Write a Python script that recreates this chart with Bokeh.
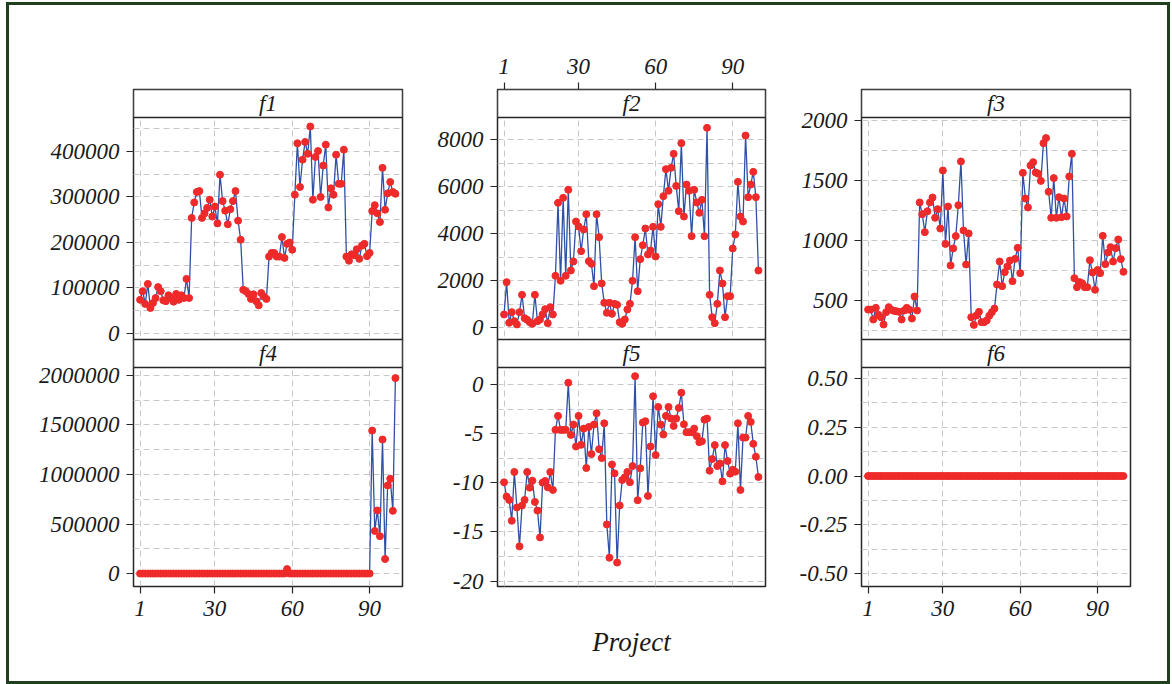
from bokeh.plotting import figure
from bokeh.models import (Range1d, FixedTicker, Grid, LinearAxis, Label,
                          ColumnDataSource, BoxAnnotation, Spacer)
from bokeh.layouts import column, row
from bokeh.embed import file_html
from bokeh.resources import INLINE

# ---------------- data ----------------
projects = list(range(1, 101))

f1 = [74000, 93000, 65000, 109000, 56000, 67000, 78000, 102000, 93000, 73000,
      71000, 84000, 78000, 70000, 87000, 74000, 84000, 78000, 120000, 78000,
      254000, 288000, 311000, 313000, 254000, 264000, 276000, 294000, 257000, 279000,
      242000, 349000, 291000, 270000, 240000, 273000, 291000, 313000, 248000, 206000,
      96000, 93000, 87000, 76000, 86000, 71000, 62000, 89000, 81000, 76000,
      169000, 177000, 177000, 169000, 169000, 212000, 166000, 197000, 200000, 184000,
      305000, 418000, 322000, 382000, 421000, 395000, 455000, 294000, 388000, 401000,
      300000, 369000, 415000, 277000, 319000, 305000, 393000, 329000, 329000, 404000,
      169000, 160000, 174000, 172000, 185000, 164000, 193000, 197000, 170000, 177000,
      269000, 282000, 264000, 245000, 364000, 272000, 308000, 333000, 311000, 307000]

f2 = [566, 1940, 212, 665, 283, 142, 665, 1402, 411, 340,
      241, 170, 1402, 283, 354, 566, 793, 198, 878, 566,
      2209, 5310, 1997, 5522, 2209, 5862, 2435, 2818, 4517, 4305,
      3257, 4177, 4828, 2832, 2718, 1769, 4828, 3851, 1883, 1062,
      637, 1062, 595, 1019, 977, 240, 169, 353, 778, 1019,
      1996, 3851, 1556, 2916, 3511, 4219, 3115, 3284, 4290, 3030,
      5253, 4290, 5593, 6740, 5819, 6797, 7391, 6028, 4955, 7844,
      4728, 6085, 5819, 3893, 5862, 5324, 4885, 5437, 3893, 8496,
      1400, 451, 198, 1019, 2435, 1883, 451, 1343, 1343, 3370,
      3964, 6201, 4728, 4516, 8170, 5550, 6085, 6626, 5550, 2435]

f3 = [422, 422, 339, 436, 378, 358, 297, 400, 442, 420,
      411, 408, 403, 339, 414, 436, 420, 347, 531, 414,
      1316, 1218, 1068, 1243, 1316, 1357, 1188, 1260, 1098, 1583,
      970, 1282, 790, 932, 1035, 1293, 1658, 1082, 798, 1057,
      358, 294, 372, 403, 317, 317, 331, 370, 400, 430,
      631, 823, 617, 734, 781, 831, 659, 845, 937, 726,
      1563, 1349, 1274, 1624, 1652, 1566, 1555, 1496, 1811, 1853,
      1405, 1188, 1519, 1188, 1360, 1193, 1349, 1199, 1533, 1722,
      684, 609, 651, 642, 609, 609, 834, 731, 587, 753,
      726, 1037, 801, 898, 943, 823, 934, 1007, 843, 737]

f4 = [0, 0, 0, 0, 0, 0, 0, 0, 0, 0,
      0, 0, 0, 0, 0, 0, 0, 0, 0, 0,
      0, 0, 0, 0, 0, 0, 0, 0, 0, 0,
      0, 0, 0, 0, 0, 0, 0, 0, 0, 0,
      0, 0, 0, 0, 0, 0, 0, 0, 0, 0,
      0, 0, 0, 0, 0, 0, 0, 45000, 0, 0,
      0, 0, 0, 0, 0, 0, 0, 0, 0, 0,
      0, 0, 0, 0, 0, 0, 0, 0, 0, 0,
      0, 0, 0, 0, 0, 0, 0, 0, 0, 0,
      1443000, 430000, 637000, 377000, 1353000, 147000, 890000, 957000, 633000, 1973000]

f5 = [-9.95, -11.40, -11.74, -13.86, -8.90, -12.51, -16.46, -12.31, -11.74, -8.90,
      -10.49, -9.78, -11.94, -12.82, -15.55, -9.98, -9.81, -10.46, -8.90, -10.73,
      -4.62, -3.20, -4.62, -4.62, -4.62, 0.17, -5.13, -4.08, -6.31, -3.20,
      -6.14, -4.49, -8.50, -4.32, -7.08, -4.08, -2.93, -6.58, -7.49, -3.95,
      -14.23, -17.61, -8.13, -9.04, -18.11, -12.31, -9.71, -9.44, -8.90, -9.95,
      -8.30, 0.84, -11.77, -8.53, -3.88, -3.74, -11.33, -6.31, -1.21, -7.18,
      -2.29, -4.08, -5.09, -3.20, -2.29, -3.47, -4.22, -3.47, -2.39, -0.84,
      -4.05, -4.86, -4.86, -4.86, -4.49, -5.26, -5.87, -5.77, -3.58, -3.47,
      -8.77, -7.59, -6.17, -8.30, -8.03, -9.85, -6.17, -7.79, -9.07, -8.67,
      -8.87, -3.95, -10.73, -5.40, -5.40, -3.20, -3.81, -6.04, -7.35, -9.41]

f6 = [0, 0, 0, 0, 0, 0, 0, 0, 0, 0,
      0, 0, 0, 0, 0, 0, 0, 0, 0, 0,
      0, 0, 0, 0, 0, 0, 0, 0, 0, 0,
      0, 0, 0, 0, 0, 0, 0, 0, 0, 0,
      0, 0, 0, 0, 0, 0, 0, 0, 0, 0,
      0, 0, 0, 0, 0, 0, 0, 0, 0, 0,
      0, 0, 0, 0, 0, 0, 0, 0, 0, 0,
      0, 0, 0, 0, 0, 0, 0, 0, 0, 0,
      0, 0, 0, 0, 0, 0, 0, 0, 0, 0,
      0, 0, 0, 0, 0, 0, 0, 0, 0, 0]

panel_names = ["f1", "f2", "f3", "f4", "f5", "f6"]
x_ticks = [1, 30, 60, 90]
x_tick_labels = ["1", "30", "60", "90"]

f1_ticks = [0, 100000, 200000, 300000, 400000]
f1_labels = ["0", "100000", "200000", "300000", "400000"]
f2_ticks = [0, 2000, 4000, 6000, 8000]
f2_labels = ["0", "2000", "4000", "6000", "8000"]
f3_ticks = [500, 1000, 1500, 2000]
f3_labels = ["500", "1000", "1500", "2000"]
f4_ticks = [0, 500000, 1000000, 1500000, 2000000]
f4_labels = ["0", "500000", "1000000", "1500000", "2000000"]
f5_ticks = [-20, -15, -10, -5, 0]
f5_labels = ["-20", "-15", "-10", "-5", "0"]
f6_ticks = [-0.5, -0.25, 0, 0.25, 0.5]
f6_labels = ["-0.50", "-0.25", "0.00", "0.25", "0.50"]

x_title = "Project"

# ---------------- style ----------------
FONT = "Liberation Serif"
RED = "#EE2A2A"
BLUE = "#2F50A5"
GRIDC = "#C8C8C8"
BORDER = "#262626"
TEXTC = "#1a1a1a"
GREEN = "#1F3F1F"
TICK_FS = "23px"

X_START, X_END = -1.55, 102.75
xr = Range1d(X_START, X_END)

# vertical layout of one column's frame (pixels from the frame bottom)
FRAME_H = 497
ROW2 = (0, 219)
STRIP2 = (219, 247)
ROW1 = (247, 469)
STRIP1 = (469, 497)

FIG_H = 676
MIN_TOP, MIN_BOTTOM = 84, 95


def half_steps(ticks):
    step = (ticks[1] - ticks[0]) / 2.0
    out = []
    v = ticks[0] - step
    while v <= ticks[-1] + 1e-9:
        out.append(v)
        v += step
    return out


def to_px(v, lim, span):
    lo, hi = lim
    p0, p1 = span
    return round(p0 + (v - lo) * (p1 - p0) / (hi - lo), 4)


def style_axis(ax):
    ax.major_label_text_font = FONT
    ax.major_label_text_font_style = "italic"
    ax.major_label_text_font_size = TICK_FS
    ax.major_label_text_color = TEXTC
    ax.major_tick_out = 7
    ax.major_tick_in = 0
    ax.minor_tick_out = 0
    ax.minor_tick_in = 0
    ax.major_tick_line_color = BORDER
    ax.major_tick_line_width = 1.2
    ax.axis_line_color = None


def build_column(w, ml, mr, panels, top_axis=False, bottom_axis=False, xlabel=None):
    p = figure(width=w, height=FIG_H, x_range=xr, y_range=Range1d(0, FRAME_H),
               x_axis_type=None, y_axis_type=None,
               toolbar_location=None, output_backend="svg",
               min_border=0, min_border_left=ml, min_border_right=mr,
               min_border_top=MIN_TOP, min_border_bottom=MIN_BOTTOM)
    p.outline_line_color = BORDER
    p.outline_line_width = 1.5
    p.background_fill_color = "white"
    p.border_fill_color = "white"

    p.add_layout(Grid(dimension=0, ticker=FixedTicker(ticks=x_ticks),
                      grid_line_color=GRIDC, grid_line_dash="6 4", grid_line_width=1))

    all_ticks, all_labels, grid_ticks = [], [], []
    extra = {}
    for (name, values, lim, ticks, labels, gticks), span, strip in zip(
            panels, (ROW1, ROW2), (STRIP1, STRIP2)):
        lo, hi = lim
        s = (hi - lo) / (span[1] - span[0])
        start = lo - span[0] * s
        extra[name] = Range1d(start, start + FRAME_H * s)
        for t, lab in zip(ticks, labels):
            all_ticks.append(to_px(t, lim, span))
            all_labels.append(lab)
        grid_ticks += [to_px(g, lim, span) for g in gticks]
    p.extra_y_ranges = extra

    p.add_layout(Grid(dimension=1, ticker=FixedTicker(ticks=grid_ticks),
                      grid_line_color=GRIDC, grid_line_dash="6 4", grid_line_width=1))

    yax = LinearAxis(ticker=FixedTicker(ticks=all_ticks),
                     major_label_overrides=dict(zip(all_ticks, all_labels)))
    style_axis(yax)
    yax.major_label_standoff = 7
    p.add_layout(yax, "left")

    for (name, values, lim, ticks, labels, gticks), strip in zip(panels, (STRIP1, STRIP2)):
        src = ColumnDataSource(dict(x=projects, y=values))
        p.line("x", "y", source=src, line_color=BLUE, line_width=1.3, y_range_name=name)
        p.scatter("x", "y", source=src, size=7, fill_color=RED, line_color=RED,
                  y_range_name=name)
        p.add_layout(BoxAnnotation(bottom=strip[0], top=strip[1], fill_color="white",
                                   fill_alpha=1.0, line_color=BORDER, line_width=1.5,
                                   line_alpha=1.0))
        p.add_layout(Label(x=(X_START + X_END) / 2.0, y=(strip[0] + strip[1]) / 2.0,
                           text=name, text_align="center", text_baseline="middle",
                           text_font=FONT, text_font_style="italic",
                           text_font_size="23px", text_color=TEXTC))

    if top_axis:
        ax = LinearAxis(ticker=FixedTicker(ticks=x_ticks),
                        major_label_overrides=dict(zip(x_ticks, x_tick_labels)))
        style_axis(ax)
        ax.major_label_standoff = 9
        p.add_layout(ax, "above")
    if bottom_axis:
        ax = LinearAxis(ticker=FixedTicker(ticks=x_ticks),
                        major_label_overrides=dict(zip(x_ticks, x_tick_labels)))
        style_axis(ax)
        ax.major_label_standoff = 7
        p.add_layout(ax, "below")
    if xlabel is not None:
        lab = LinearAxis(ticker=FixedTicker(ticks=[]), axis_label=xlabel)
        lab.axis_line_color = None
        lab.major_tick_out = 0
        lab.major_tick_in = 0
        lab.axis_label_text_font = FONT
        lab.axis_label_text_font_style = "italic"
        lab.axis_label_text_font_size = "27px"
        lab.axis_label_text_color = TEXTC
        lab.axis_label_standoff = 40
        p.add_layout(lab, "below")
    return p


c1 = build_column(417, 124, 24, [
    (panel_names[0], f1, (-13200, 474700), f1_ticks, f1_labels, half_steps(f1_ticks) + [450000]),
    (panel_names[3], f4, (-130650, 2080000), f4_ticks, f4_labels, half_steps(f4_ticks)),
], bottom_axis=True)

c2 = build_column(361, 71, 22, [
    (panel_names[1], f2, (-497, 8935), f2_ticks, f2_labels, half_steps(f2_ticks)),
    (panel_names[4], f5, (-20.54, 1.72), f5_ticks, f5_labels, half_steps(f5_ticks)),
], top_axis=True, xlabel=x_title)

c3 = build_column(380, 74, 37, [
    (panel_names[2], f3, (172, 2025), f3_ticks, f3_labels, half_steps(f3_ticks)),
    (panel_names[5], f6, (-0.566, 0.556), f6_ticks, f6_labels, half_steps(f6_ticks)),
], bottom_axis=True)

framed = row(c1, c2, c3, spacing=0,
             styles={"border": "3px solid " + GREEN, "background-color": "white"})
root = column(Spacer(height=2), row(Spacer(width=6), framed, spacing=0), spacing=0)

open("out.html", "w").write(file_html(root, INLINE))
